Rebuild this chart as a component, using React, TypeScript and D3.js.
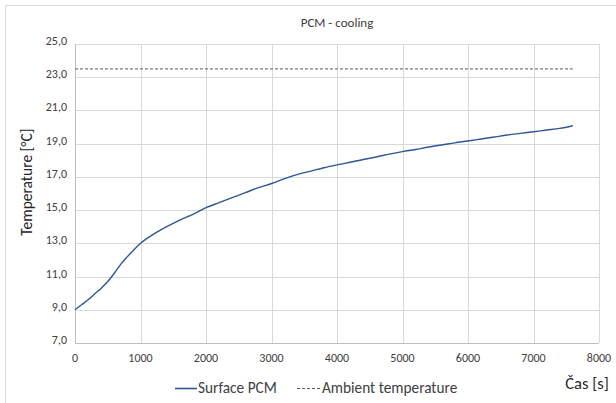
import React from "react";
import * as d3 from "d3";

// Surface PCM temperature over time (s, °C)
const times = [
  0, 100, 200, 300, 400, 500, 600, 700, 800, 900, 1000, 1200, 1400, 1600, 1800,
  2000, 2200, 2400, 2600, 2800, 3000, 3200, 3400, 3600, 3800, 4000, 4200, 4400,
  4600, 4800, 5000, 5200, 5400, 5600, 5800, 6000, 6200, 6400, 6600, 6800, 7000,
  7200, 7400, 7600,
];
const surfaceTemps = [
  9.0, 9.3, 9.6, 9.95, 10.3, 10.7, 11.2, 11.75, 12.2, 12.62, 13.0, 13.55, 14.0,
  14.4, 14.75, 15.15, 15.45, 15.75, 16.05, 16.35, 16.6, 16.9, 17.15, 17.35,
  17.55, 17.72, 17.88, 18.05, 18.2, 18.37, 18.52, 18.65, 18.8, 18.92, 19.05,
  19.16, 19.28, 19.4, 19.52, 19.62, 19.72, 19.82, 19.92, 20.08,
];
const ambientTimes = [0, 7600];
const ambientTemps = [23.5, 23.5];

const xTicks = [0, 1000, 2000, 3000, 4000, 5000, 6000, 7000, 8000];
const yTicks = [7, 9, 11, 13, 15, 17, 19, 21, 23, 25];

const W = 616;
const H = 403;
const plot = { left: 75, right: 599, top: 44, bottom: 343 };
const font = "Carlito, 'Liberation Sans', Arial, sans-serif";

export default function App() {
  const x = d3.scaleLinear().domain([0, 8000]).range([plot.left, plot.right]);
  const y = d3.scaleLinear().domain([7, 25]).range([plot.bottom, plot.top]);

  const line = d3
    .line<[number, number]>()
    .x((d) => x(d[0]))
    .y((d) => y(d[1]))
    .curve(d3.curveMonotoneX);

  const surface = times.map((t, i) => [t, surfaceTemps[i]] as [number, number]);
  const ambient = ambientTimes.map((t, i) => [t, ambientTemps[i]] as [number, number]);
  const fmt = (v: number) => v.toFixed(1).replace(".", ",");
  const snap = (v: number) => Math.round(v) + 0.5;

  return (
    <svg
      width={W}
      height={H}
      style={{ position: "absolute", left: 0, top: 0, background: "#fff" }}
      fontFamily={font}
    >
      <rect x={5.5} y={5.5} width={640} height={420} fill="#fff" stroke="#d9d9d9" />

      <text x={(plot.left + plot.right) / 2} y={27} textAnchor="middle" fontSize={13} fill="#404040">
        PCM - cooling
      </text>

      {/* grid */}
      {yTicks.map((v) => (
        <line key={"gy" + v} x1={plot.left} x2={plot.right} y1={snap(y(v))} y2={snap(y(v))} stroke="#d9d9d9" />
      ))}
      {xTicks.map((v) => (
        <line key={"gx" + v} x1={snap(x(v))} x2={snap(x(v))} y1={plot.top} y2={plot.bottom} stroke="#d9d9d9" />
      ))}
      <line x1={plot.left} x2={plot.right} y1={snap(y(7))} y2={snap(y(7))} stroke="#bfbfbf" />
      <line x1={snap(x(0))} x2={snap(x(0))} y1={plot.top} y2={plot.bottom} stroke="#bfbfbf" />

      {/* tick labels */}
      {yTicks.map((v) => (
        <text key={"ty" + v} x={67} y={y(v) + 1} textAnchor="end" fontSize={12} fill="#404040">
          {fmt(v)}
        </text>
      ))}
      {xTicks.map((v) => (
        <text key={"tx" + v} x={x(v)} y={362} textAnchor="middle" fontSize={12} fill="#404040">
          {v}
        </text>
      ))}

      <text transform={`translate(32,182) rotate(-90)`} textAnchor="middle" fontSize={15.5} fill="#262626">
        Temperature [°C]
      </text>
      <text x={587} y={389} textAnchor="middle" fontSize={16.5} fill="#262626">
        Čas [s]
      </text>

      {/* series */}
      <path d={line(ambient) ?? ""} fill="none" stroke="#595959" strokeWidth={1} strokeDasharray="3,2" />
      <path d={line(surface) ?? ""} fill="none" stroke="#2f5597" strokeWidth={1.4} />

      {/* legend */}
      <line x1={175} x2={197} y1={388.5} y2={388.5} stroke="#2f5597" strokeWidth={1.6} />
      <text x={198} y={393} fontSize={15.3} fill="#404040">Surface PCM</text>
      <line x1={297} x2={320} y1={388.5} y2={388.5} stroke="#595959" strokeDasharray="3,2" />
      <text x={322} y={393} fontSize={15.3} fill="#404040">Ambient temperature</text>
    </svg>
  );
}
